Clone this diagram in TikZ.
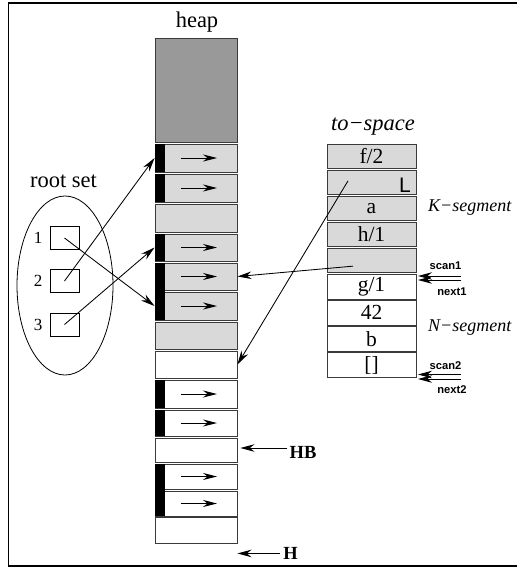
\documentclass[tikz,border=0pt]{standalone}
\usepackage{fontspec}
\setmainfont{Liberation Serif}
\setsansfont{Liberation Sans}
\usetikzlibrary{arrows.meta,calc,shapes.geometric}
\definecolor{darkcell}{HTML}{999999}
\definecolor{lightcell}{HTML}{D9D9D9}
\definecolor{celledge}{HTML}{3A3A3A}
\begin{document}
\begin{tikzpicture}[x=1pt,y=-1pt,
  heapcell/.style={draw=celledge, line width=0.9pt, minimum width=82pt, inner sep=0pt},
  tocell/.style={draw=celledge, line width=0.9pt, minimum width=89pt, minimum height=24.5pt,
    inner sep=0pt, font=\fontsize{21.5}{24}\selectfont},
  rootbox/.style={draw, line width=0.8pt, minimum width=29pt, minimum height=23pt, inner sep=0pt},
  ptr/.style={-{Stealth[length=14pt,width=7.5pt]}, line width=0.85pt},
  inptr/.style={-{Stealth[length=14pt,width=7pt]}, line width=1pt},
  bigtext/.style={inner sep=0pt, font=\fontsize{22.5}{26}\selectfont},
  segtext/.style={inner sep=0pt, anchor=west, font=\itshape\fontsize{18}{20}\selectfont},
  marktext/.style={inner sep=0pt, font=\sffamily\bfseries\fontsize{11.2}{13}\selectfont},
  regtext/.style={inner sep=0pt, font=\bfseries\fontsize{18.5}{20}\selectfont}]
\useasboundingbox (0,0) rectangle (517,567);

% frame
\draw[line width=1.8pt] (517,3) -- (8.5,3) -- (8.5,566) -- (517,566);

% ---------- heap ----------
\node[bigtext] (heaplabel) at (197,22) {heap};
\node[heapcell, fill=darkcell, minimum height=104pt] (h0) at (196,90) {};
\foreach \i/\y/\h/\c in {1/158/28/lightcell, 2/188/28/lightcell, 3/218/28/lightcell,
    4/247.5/27/lightcell, 5/276.5/27/lightcell, 6/306/28/lightcell, 7/335.5/27/lightcell,
    8/364.5/27/white, 9/394/28/white, 10/423/26/white, 11/450/24/white,
    12/476.5/25/white, 13/503.5/25/white, 14/530/26/white}
  \node[heapcell, fill=\c, minimum height=\h pt] (h\i) at (196,\y) {};

% header words of the objects in the heap
\foreach \i in {1,2,4,9,10}
  \fill (h\i.north west) rectangle ($(h\i.south west)+(10,0)$);
\fill (h5.north west) rectangle ($(h6.south west)+(10,0)$);
\fill (h12.north west) rectangle ($(h13.south west)+(10,0)$);

% forwarding pointers inside objects
\foreach \i in {1,2,4,5,6,9,10,12,13}
  \draw[inptr] ($(h\i.center)+(-15,0)$) -- ($(h\i.center)+(21,0)$);

% ---------- root set ----------
\node[bigtext] (rootlabel) at (63.5,181) {root set};
\node[draw, ellipse, line width=0.8pt, minimum width=96pt, minimum height=179pt, inner sep=0pt]
  (rootset) at (65,285.5) {};
\node[rootbox] (r1) at (64.5,238) {};
\node[rootbox] (r2) at (64.5,281) {};
\node[rootbox] (r3) at (64.5,324.5) {};
\node[inner sep=0pt, font=\fontsize{17}{19}\selectfont] (n1) at (38,238) {1};
\node[inner sep=0pt, font=\fontsize{17}{19}\selectfont] (n2) at (38,281) {2};
\node[inner sep=0pt, font=\fontsize{17}{19}\selectfont] (n3) at (38,324.5) {3};

\draw[ptr] (r1.center) -- (h6.west);
\draw[ptr] (r2.center) -- (h1.west);
\draw[ptr] (r3.center) -- (h4.west);

% ---------- to-space ----------
\node[bigtext, font=\itshape\fontsize{22.5}{26}\selectfont] (tolabel) at (373,127) {to−space};
\node[tocell, fill=lightcell] (t1) at (371.5,156.25) {f/2};
\node[tocell, fill=lightcell] (t2) at (371.5,182.35) {};
\node[tocell, fill=lightcell] (t3) at (371.5,208.45) {a};
\node[tocell, fill=lightcell] (t4) at (371.5,234.55) {h/1};
\node[tocell, fill=lightcell] (t5) at (371.5,260.65) {};
\node[tocell, fill=white] (t6) at (371.5,286.75) {g/1};
\node[tocell, fill=white] (t7) at (371.5,312.85) {42};
\node[tocell, fill=white] (t8) at (371.5,338.95) {b};
\node[tocell, fill=white] (t9) at (371.5,365.05) {[]};
\node[inner sep=0pt, font=\sffamily\fontsize{21}{24}\selectfont] (lmark) at (405,185.5) {L};

\node[segtext] (kseg) at (428,208) {K−segment};
\node[segtext] (nseg) at (428,328) {N−segment};

\draw[ptr] ($(t5.center)+(-18.5,5.5)$) -- (h5.east);
\draw[ptr] ($(t2.center)+(-23.5,-1.5)$) -- (h8.east);

% scan / next pointers
\node[marktext] (scan1) at (445.5,266) {scan1};
\node[marktext] (next1) at (452,292) {next1};
\node[marktext] (scan2) at (445.5,366) {scan2};
\node[marktext] (next2) at (452,390) {next2};
\coordinate (s1from) at (461,276);  \coordinate (s1to) at (418,276);
\coordinate (n1from) at (461,280);  \coordinate (n1to) at (418,280);
\coordinate (s2from) at (461,374.5);\coordinate (s2to) at (418,374.5);
\coordinate (n2from) at (461,379);  \coordinate (n2to) at (418,379);
\draw[ptr] (s1from) -- (s1to);
\draw[ptr] (n1from) -- (n1to);
\draw[ptr] (s2from) -- (s2to);
\draw[ptr] (n2from) -- (n2to);

% heap registers
\node[regtext] (HB) at (303,452) {HB};
\coordinate (hbtip) at ($(h11.east)+(3,-2)$);
\draw[ptr] ([xshift=-2pt]HB.west |- hbtip) -- (hbtip);
\node[regtext] (Hreg) at (290.5,553) {H};
\coordinate (htip) at ($(h14.south east)+(0,10)$);
\draw[ptr] ([xshift=-3pt]Hreg.west |- htip) -- (htip);
\end{tikzpicture}
\end{document}
